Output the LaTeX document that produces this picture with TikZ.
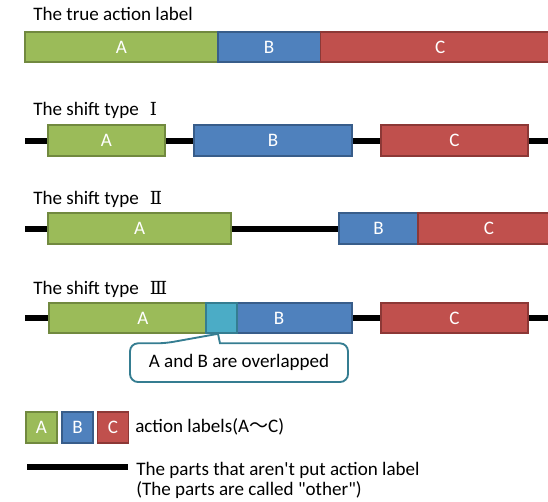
\documentclass[tikz,border=0pt]{standalone}
\usepackage{fontspec}
\setmainfont{Carlito}
\newfontfamily\cjk{Noto Sans CJK JP}
\newfontfamily\romnum{DejaVu Serif}
\usepackage{xcolor}
\usepackage{tikz}
\definecolor{lgreen}{HTML}{9BBB59}
\definecolor{lgreenD}{HTML}{71893F}
\definecolor{lblue}{HTML}{4F81BD}
\definecolor{lblueD}{HTML}{385D8A}
\definecolor{lred}{HTML}{C0504D}
\definecolor{lredD}{HTML}{8C3836}
\definecolor{lcyan}{HTML}{4BACC6}
\definecolor{lcyanD}{HTML}{357D91}
\colorlet{callteal}{lcyanD}
\newcommand{\shiftnum}[1]{\hspace{5pt}{\romnum\fontsize{13.5}{14}\selectfont #1}}

\begin{document}
\begin{tikzpicture}[x=0.75pt, y=-0.75pt,
        every node/.style={font=\fontsize{14.3}{15.4}\selectfont, inner sep=0pt},
        segA/.style={draw=lgreenD, fill=lgreen, line width=1.4pt},
        segB/.style={draw=lblueD, fill=lblue, line width=1.4pt},
        segC/.style={draw=lredD, fill=lred, line width=1.4pt},
        segAB/.style={draw=lcyanD, fill=lcyan, line width=1.4pt},
        lab/.style={text=white},
        other/.style={line width=4.5pt},
        callout/.style={draw=callteal, fill=white, line width=1.4pt}]
        \useasboundingbox (0, 0) rectangle (548, 501);
        \clip (0, 0) rectangle (548, 501);

        % true labels
        \node[anchor=base west] (ttrue) at (33, 20) {The true action label};
        \draw[segA] (25.2, 31.7) rectangle node[lab] (t0a) {A} (217.8, 62.3);
        \draw[segB] (217.8, 31.7) rectangle node[lab] (t0b) {B} (320.5, 62.3);
        \draw[segC] (320.5, 31.7) rectangle node[lab] (t0c) {C} (560, 62.3);

        %%%

        \node[anchor=base west] (tone) at (33, 115.3) {The shift type \shiftnum{Ⅰ}};
        \coordinate (o1s) at (25.2, 140.7);
        \coordinate (o1e) at (560, 140.7);
        \draw[other] (o1s) -- (o1e);
        \draw[segA] (48.2, 125) rectangle node[lab] (t1a) {A} (164.6, 156);
        \draw[segB] (194, 125) rectangle node[lab] (t1b) {B} (352, 156);
        \draw[segC] (381.3, 125) rectangle node[lab] (t1c) {C} (527.8, 156);

        %%%

        \node[anchor=base west] (ttwo) at (33, 204) {The shift type \shiftnum{Ⅱ}};
        \coordinate (o2s) at (25.2, 228.7);
        \coordinate (o2e) at (560, 228.7);
        \draw[other] (o2s) -- (o2e);
        \draw[segA] (48.2, 212.7) rectangle node[lab] (t2a) {A} (231, 244);
        \draw[segB] (339, 212.7) rectangle node[lab] (t2b) {B} (418, 244);
        \draw[segC] (418, 212.7) rectangle node[lab] (t2c) {C} (560, 244);

        %%%

        \node[anchor=base west] (tthree) at (33, 294.3) {The shift type \shiftnum{Ⅲ}};
        \coordinate (o3s) at (25.2, 318.3);
        \coordinate (o3e) at (560, 318.3);
        \draw[other] (o3s) -- (o3e);
        \draw[segA] (49, 302.7) rectangle node[lab] (t3a) {A} (237, 333.3);
        \draw[segB] (206.2, 302.7) rectangle node[lab] (t3b) {B} (352, 333.3);
        \draw[segAB] (206.2, 302.7) rectangle (237, 333.3);
        \draw[segC] (381.3, 302.7) rectangle node[lab] (t3c) {C} (527.8, 333.3);

        \draw[callout] (240, 382) [rounded corners=6] -- (130, 382) -- (130, 343.3) -- (165, 343.3)
            [sharp corners] -- (218, 333.8) -- (220, 343.3)
            [rounded corners=6] -- (348, 343.3) -- (348, 382) -- cycle;
        \node (over) at (239, 362.7) {A and B are overlapped};

        %%%

        \draw[segA] (26, 411.7) rectangle node[lab] (ka) {A} (57, 442.7);
        \draw[segB] (62, 411.7) rectangle node[lab] (kb) {B} (93, 442.7);
        \draw[segC] (97.5, 411.7) rectangle node[lab] (kc) {C} (128.5, 442.7);
        \node[anchor=west] (kabc) at (135, 427.2) {action labels(A{\cjk 〜}C)};

        \coordinate (ks) at (27, 466.7);
        \coordinate (ke) at (128, 466.7);
        \draw[other] (ks) -- (ke);
        \node[anchor=west, align=left] (kother) at (136, 480.5)
            {The parts that aren\textquotesingle t put action label\\(The parts are called \textquotedbl other\textquotedbl)};
    \end{tikzpicture}
\end{document}
